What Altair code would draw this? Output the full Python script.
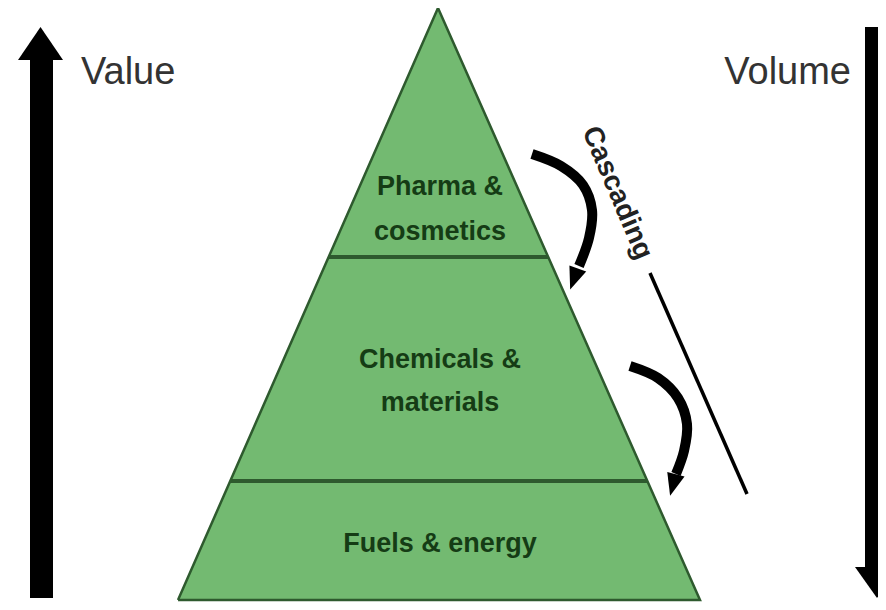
import altair as alt
import pandas as pd

# ---- diagram content (page-pixel coordinates) ----
# pyramid body (apex and base corners)
pyr_x = [178, 438, 700]
pyr_top = [600, 8, 600]
pyr_bottom = [600, 600, 600]

# tier dividers
div_y = [257, 481]
div_x1 = [329, 230]
div_x2 = [548, 647]

# tier labels (one row per text line)
tier_text = ["Pharma &", "cosmetics", "Chemicals &", "materials", "Fuels & energy"]
tier_x = [440, 440, 440, 440, 440]
tier_y = [195, 240, 368, 411, 552]

# side captions
side_text = ["Value", "Volume"]
side_x = [81, 851]
side_y = [84, 84]
side_align = ["left", "right"]

# big vertical arrows: shafts and heads
shaft_x1 = [30, 865]
shaft_x2 = [53, 889]
shaft_y1 = [58, 27]
shaft_y2 = [598, 568]
up_head_x = [18, 40.5, 63]
up_head_y = [60, 27, 60]
down_head_x = [855, 877, 899]
down_head_y = [567, 598, 567]

# curved "cascading" arrows
curve1_x = [532, 561, 583, 592, 589, 579]
curve1_y = [154, 166, 185, 210, 238, 266]
curve2_x = [630, 658, 678, 687, 684, 676]
curve2_y = [366, 378, 398, 424, 451, 474]
head_x = [574, 673]
head_y = [279, 485]
head_angle = [20, 15]

# cascading line and caption
casc_x = [650, 747]
casc_y = [273, 494]
casc_label = "Cascading"
casc_lx, casc_ly = 617, 193

GREEN = "#73ba71"
EDGE = "#2e5a2e"
LABEL = "#153c15"
SANS = "Liberation Sans, Arial, sans-serif"

xs = alt.Scale(domain=[8, 878], nice=False, zero=False)
ys = alt.Scale(domain=[8, 602], nice=False, zero=False, reverse=True)


def X(f="x"):
    return alt.X(f"{f}:Q", scale=xs, axis=None)


def Y(f="y"):
    return alt.Y(f"{f}:Q", scale=ys, axis=None)


# pyramid fill
pyr_df = pd.DataFrame({"x": pyr_x, "y": pyr_top, "y2": pyr_bottom})
pyr_fill = alt.Chart(pyr_df).mark_area(color=GREEN, opacity=1).encode(
    x=X(), y=Y(), y2="y2:Q"
)

# pyramid outline
out_df = pd.DataFrame({
    "x": pyr_x + [pyr_x[0]],
    "y": pyr_top + [pyr_top[0]],
    "o": [0, 1, 2, 3],
})
pyr_out = alt.Chart(out_df).mark_line(color=EDGE, strokeWidth=2.5, strokeJoin="miter").encode(
    x=X(), y=Y(), order="o:Q"
)

div_df = pd.DataFrame({"x": div_x1, "x2": div_x2, "y": div_y})
dividers = alt.Chart(div_df).mark_rule(color=EDGE, strokeWidth=4).encode(
    x=X(), x2="x2:Q", y=Y()
)

tier_df = pd.DataFrame({"x": tier_x, "y": tier_y, "t": tier_text})
tiers = alt.Chart(tier_df).mark_text(
    font=SANS, fontSize=27, fontWeight="bold", color=LABEL,
    align="center", baseline="alphabetic"
).encode(x=X(), y=Y(), text="t:N")

side_charts = []
for t, sx, sy, al in zip(side_text, side_x, side_y, side_align):
    d = pd.DataFrame({"x": [sx], "y": [sy], "t": [t]})
    side_charts.append(
        alt.Chart(d).mark_text(
            font=SANS, fontSize=38, color="#333333", align=al, baseline="alphabetic"
        ).encode(x=X(), y=Y(), text="t:N")
    )

shaft_df = pd.DataFrame({"x": shaft_x1, "x2": shaft_x2, "y": shaft_y1, "y2": shaft_y2})
shafts = alt.Chart(shaft_df).mark_rect(color="#000000").encode(
    x=X(), x2="x2:Q", y=Y(), y2="y2:Q"
)

up_df = pd.DataFrame({"x": up_head_x, "y": up_head_y, "y2": [up_head_y[0]] * 3})
up_head = alt.Chart(up_df).mark_area(color="#000000", opacity=1).encode(
    x=X(), y=Y(), y2="y2:Q"
)
dn_df = pd.DataFrame({"x": down_head_x, "y": down_head_y, "y2": [down_head_y[0]] * 3})
dn_head = alt.Chart(dn_df).mark_area(color="#000000", opacity=1).encode(
    x=X(), y=Y(), y2="y2:Q"
)

curve_df = pd.DataFrame({
    "x": curve1_x + curve2_x,
    "y": curve1_y + curve2_y,
    "o": list(range(len(curve1_x))) + list(range(len(curve2_x))),
    "c": ["a"] * len(curve1_x) + ["b"] * len(curve2_x),
})
curves = alt.Chart(curve_df).mark_line(
    color="#000000", strokeWidth=10, interpolate="catmull-rom", strokeCap="butt"
).encode(x=X(), y=Y(), order="o:Q", detail="c:N")

heads_df = pd.DataFrame({"x": head_x, "y": head_y, "a": head_angle})
heads = alt.Chart(heads_df).mark_point(
    shape="M-0.8,-1L0.8,-1L0,1Z", filled=True, color="#000000", opacity=1, size=500,
    strokeWidth=0
).encode(x=X(), y=Y(), angle=alt.Angle("a:Q", scale=None))

casc_df = pd.DataFrame({"x": [casc_x[0]], "x2": [casc_x[1]], "y": [casc_y[0]], "y2": [casc_y[1]]})
casc_line = alt.Chart(casc_df).mark_rule(color="#000000", strokeWidth=3.5).encode(
    x=X(), x2="x2:Q", y=Y(), y2="y2:Q"
)

ct_df = pd.DataFrame({"x": [casc_lx], "y": [casc_ly], "t": [casc_label]})
casc_text = alt.Chart(ct_df).mark_text(
    font=SANS, fontSize=28, fontWeight="bold",
    color="#222222", angle=67, align="center", baseline="middle"
).encode(x=X(), y=Y(), text="t:N")

chart = alt.layer(
    pyr_fill, dividers, pyr_out, tiers, *side_charts, shafts, up_head, dn_head,
    curves, heads, casc_line, casc_text
).properties(
    width=870, height=594, padding=0,
    autosize=alt.AutoSizeParams(type="none"),
    background="#ffffff",
).configure_view(stroke=None)

chart.save("out.html", embed_options={"renderer": "svg", "actions": False})
